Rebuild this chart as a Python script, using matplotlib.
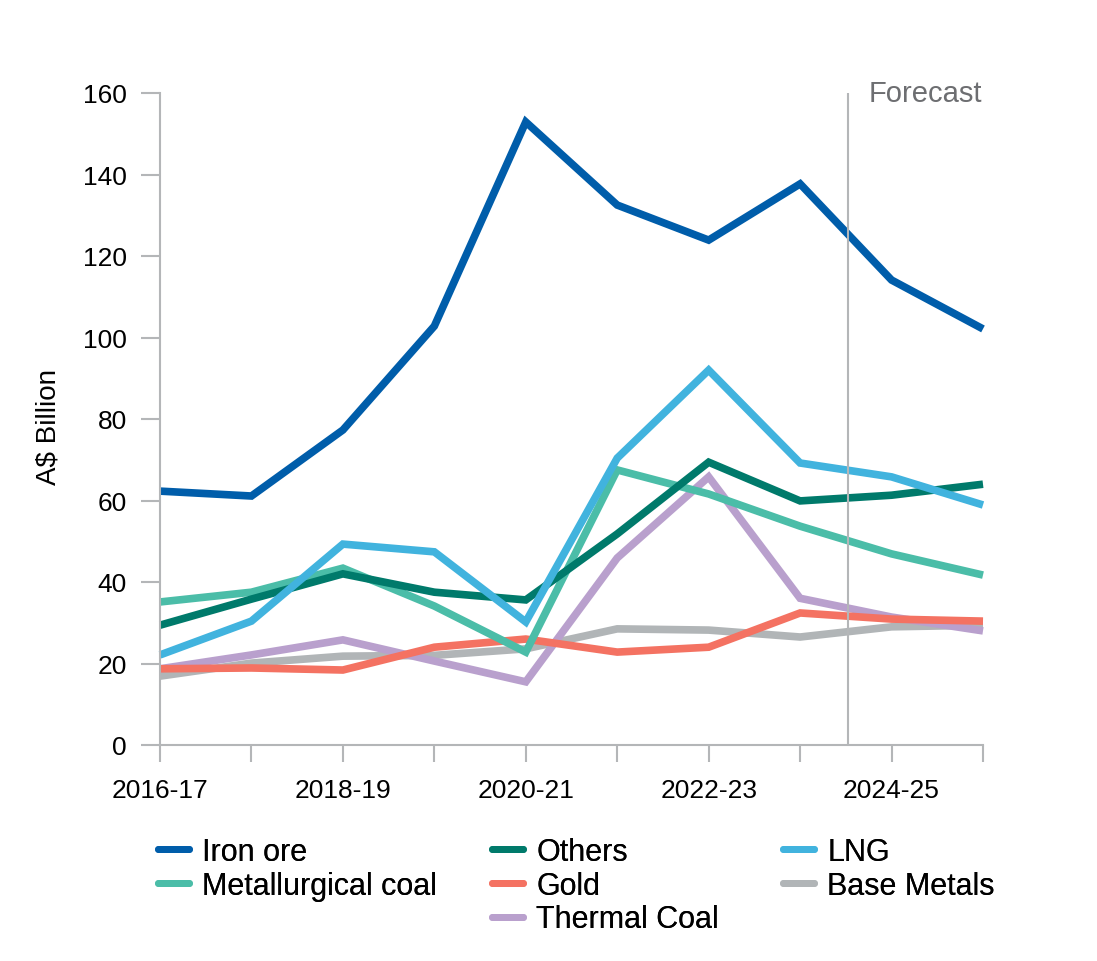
import matplotlib.pyplot as plt
from matplotlib.lines import Line2D

plt.rcParams['font.family'] = ['Liberation Sans', 'DejaVu Sans']

years = ['2016-17', '2017-18', '2018-19', '2019-20', '2020-21',
         '2021-22', '2022-23', '2023-24', '2024-25', '2025-26']

iron_ore = [62.3, 61.1, 77.3, 102.8, 152.9, 132.5, 123.9, 137.7, 114.1, 102.1]
others = [29.4, 35.8, 42.0, 37.5, 35.6, 51.8, 69.4, 59.9, 61.3, 64.0]
lng = [22.1, 30.4, 49.3, 47.4, 30.2, 70.4, 92.0, 69.2, 65.8, 58.9]
met_coal = [35.1, 37.5, 43.4, 34.1, 22.8, 67.5, 61.6, 53.7, 46.9, 41.7]
gold = [18.7, 18.9, 18.4, 24.0, 26.0, 22.8, 24.0, 32.4, 30.9, 30.4]
base_metals = [16.9, 20.1, 21.8, 22.0, 23.6, 28.5, 28.2, 26.5, 29.0, 29.4]
thermal_coal = [18.7, 22.1, 25.8, 20.6, 15.5, 45.9, 65.8, 36.0, 31.4, 28.0]

colors = {
    'Iron ore': '#005DAA',
    'Others': '#007A6B',
    'LNG': '#41B3DE',
    'Metallurgical coal': '#4BBDA8',
    'Gold': '#F47262',
    'Base Metals': '#B1B5B7',
    'Thermal Coal': '#B9A0CD',
}

W, H = 1097, 962
fig = plt.figure(figsize=(W / 100, H / 100), dpi=100)
ax = fig.add_axes([160 / W, 1 - 746 / H, (983 - 160) / W, (746 - 94) / H])

x = list(range(len(years)))
lw = 5.5
series = [
    ('Base Metals', base_metals),
    ('Thermal Coal', thermal_coal),
    ('Gold', gold),
    ('Metallurgical coal', met_coal),
    ('Others', others),
    ('LNG', lng),
    ('Iron ore', iron_ore),
]
for name, vals in series:
    ax.plot(x, vals, color=colors[name], lw=lw, solid_capstyle='butt',
            solid_joinstyle='miter', clip_on=False)

grey = '#B4B6B8'
ax.axvline(7.52, color=grey, lw=1.5)
ax.text(7.75, 160, 'Forecast', color='#6D6E71', fontsize=21, va='center', ha='left')

ax.set_xlim(0, 9)
ax.set_ylim(0, 160)
ax.set_yticks(range(0, 161, 20))
ax.set_xticks(x)
ax.set_xticklabels([y if i % 2 == 0 else '' for i, y in enumerate(years)])
ax.tick_params(axis='both', labelsize=19, color=grey, width=1.5)
ax.tick_params(axis='x', length=12, pad=12)
ax.tick_params(axis='y', length=14, pad=10)
for s in ['top', 'right']:
    ax.spines[s].set_visible(False)
for s in ['left', 'bottom']:
    ax.spines[s].set_color(grey)
    ax.spines[s].set_linewidth(1.5)
ax.set_ylabel('A$ Billion', fontsize=20)
ax.yaxis.set_label_coords(-0.12, 0.49)


def h(name):
    return Line2D([], [], color=colors[name], lw=5, solid_capstyle='round')


columns = [
    (158, ['Iron ore', 'Metallurgical coal']),
    (492, ['Others', 'Gold', 'Thermal Coal']),
    (783, ['LNG', 'Base Metals']),
]
for left, names in columns:
    leg = fig.legend([h(n) for n in names], names, loc='upper left',
                     bbox_to_anchor=(left / W, 1 - 838 / H), frameon=False,
                     fontsize=22, handlelength=1.0, handletextpad=0.45,
                     labelspacing=0.12, borderpad=0, borderaxespad=0)
    fig.add_artist(leg)

fig.savefig('out.png', dpi=100)
